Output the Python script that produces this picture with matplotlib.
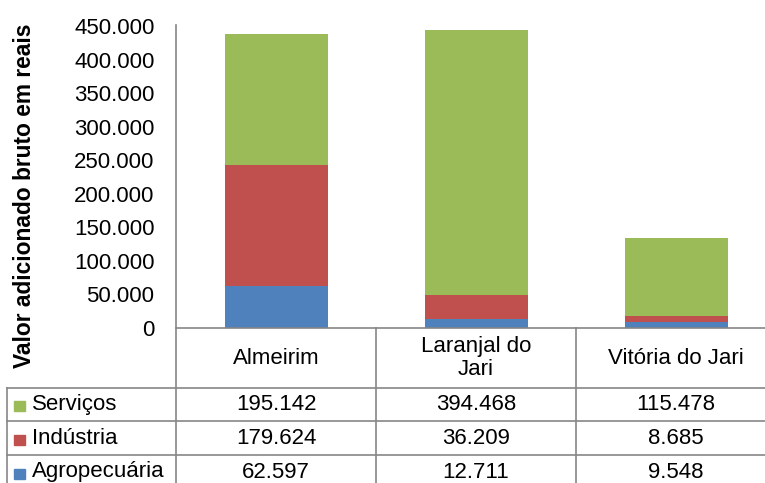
import matplotlib
matplotlib.use("Agg")
import matplotlib.pyplot as plt
from matplotlib.lines import Line2D
from matplotlib.patches import Rectangle
from matplotlib import transforms

plt.rcParams['font.family'] = ['Liberation Sans', 'DejaVu Sans']

categories = ["Almeirim", "Laranjal do\nJari", "Vitória do Jari"]
servicos = [195142, 394468, 115478]
industria = [179624, 36209, 8685]
agropecuaria = [62597, 12711, 9548]
colors = {"Serviços": "#9BBB59", "Indústria": "#C0504D", "Agropecuária": "#4F81BD"}
ytick_values = [0, 50000, 100000, 150000, 200000, 250000, 300000, 350000, 400000, 450000]

W, H = 765, 483
fig = plt.figure(figsize=(W / 100, H / 100), dpi=100)

def fx(px):
    return px / W

def fy(py):
    return 1 - py / H

grid_color = "#868686"

# plot area (extends past the right edge of the figure)
ax_left, ax_right, ax_top, ax_bottom = 176, 776, 26, 328
ax = fig.add_axes([fx(ax_left), fy(ax_bottom), fx(ax_right - ax_left), (ax_bottom - ax_top) / H])
ax.set_xlim(-0.5, 2.5)
ax.set_ylim(0, 450000)

x = list(range(len(categories)))
bar_w = 0.515
stack = [agropecuaria, industria, servicos]
names = ["Agropecuária", "Indústria", "Serviços"]
bottom = [0] * len(categories)
for vals, name in zip(stack, names):
    ax.bar(x, vals, bar_w, bottom=bottom, color=colors[name], edgecolor="none", zorder=2)
    bottom = [b + v for b, v in zip(bottom, vals)]

for s in ["top", "right", "bottom", "left"]:
    ax.spines[s].set_visible(False)
ax.set_xticks([])
ax.set_yticks(ytick_values)
ax.set_yticklabels([f"{v:,}".replace(",", ".") for v in ytick_values], fontsize=16)
ax.tick_params(axis="y", length=0, pad=15.5)

ax.set_ylabel("Valor adicionado bruto em reais", fontsize=16.4, fontweight="bold", labelpad=0)
ax.yaxis.set_label_coords(36, H - 196, transform=transforms.IdentityTransform())

# axis lines and data table
def hline(y, x0, x1):
    fig.add_artist(Line2D([fx(x0), fx(x1)], [fy(y), fy(y)], color=grid_color, lw=1.2))

def vline(xp, y0, y1):
    fig.add_artist(Line2D([fx(xp), fx(xp)], [fy(y0), fy(y1)], color=grid_color, lw=1.2))

hline(ax_bottom, ax_left, W + 5)
vline(ax_left, ax_top - 1, H + 5)

rows_y = [387.5, 421, 455, 489]
for y in rows_y[:-1]:
    hline(y, 7, W + 5)
vline(7, rows_y[0], H + 5)

blend = transforms.blended_transform_factory(ax.transData, fig.transFigure)
for xd in [0.5, 1.5]:
    fig.add_artist(Line2D([xd, xd], [fy(ax_bottom), fy(H + 5)], color=grid_color, lw=1.2,
                          transform=blend))

for xi, cat in zip(x, categories):
    fig.text(xi, fy(358), cat, transform=blend, ha="center", va="center",
             fontsize=16, linespacing=1.15)

table_rows = [("Serviços", servicos), ("Indústria", industria), ("Agropecuária", agropecuaria)]
for i, (name, vals) in enumerate(table_rows):
    yc = (rows_y[i] + rows_y[i + 1]) / 2
    fig.add_artist(Rectangle((fx(14), fy(yc + 7)), fx(11), 10 / H, color=colors[name],
                             transform=fig.transFigure))
    fig.text(fx(31.5), fy(yc), name, ha="left", va="center", fontsize=16)
    for xi, v in zip(x, vals):
        fig.text(xi, fy(yc), f"{v:,}".replace(",", "."), transform=blend,
                 ha="center", va="center", fontsize=16)

fig.savefig("out.png", dpi=100)
